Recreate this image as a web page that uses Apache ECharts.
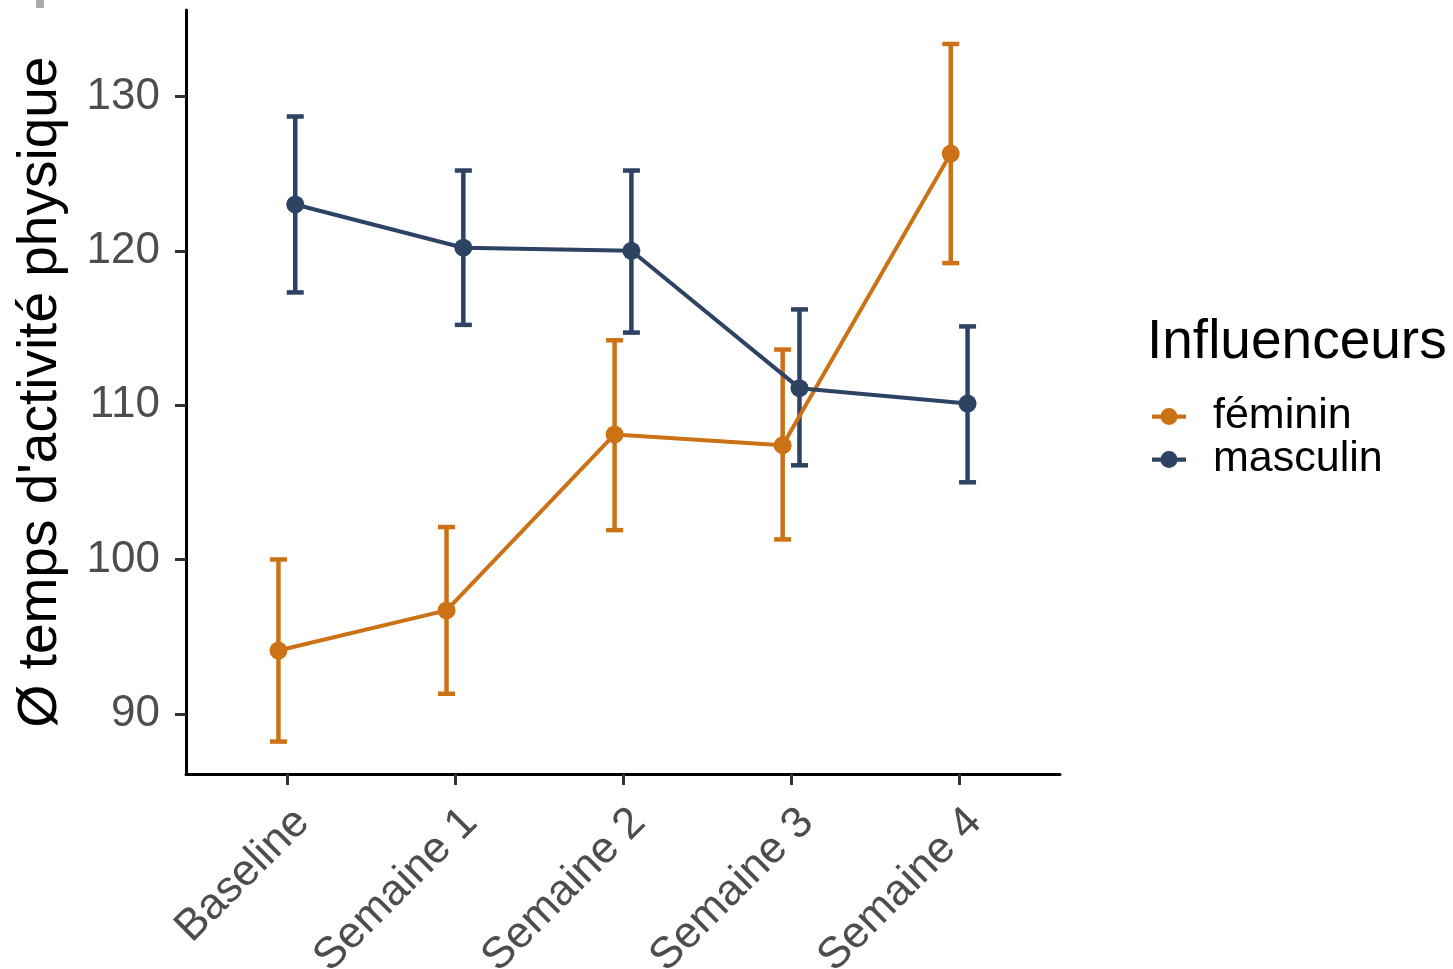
<!DOCTYPE html>
<html>
<head>
<meta charset="utf-8">
<script src="https://cdn.jsdelivr.net/npm/echarts@6/dist/echarts.min.js"></script>
<style>html,body{margin:0;padding:0;background:#fff}#c{width:1453px;height:969px}</style>
</head>
<body>
<div id="c"></div>
<script>
const categories = ['Baseline', 'Semaine 1', 'Semaine 2', 'Semaine 3', 'Semaine 4'];
const yTicks = [90, 100, 110, 120, 130];
const femMean = [94.1, 96.7, 108.1, 107.4, 126.3];
const femLow  = [88.2, 91.3, 101.9, 101.3, 119.2];
const femHigh = [100.0, 102.1, 114.2, 113.6, 133.4];
const mascMean = [123.0, 120.2, 120.0, 111.1, 110.1];
const mascLow  = [117.3, 115.2, 114.7, 106.1, 105.0];
const mascHigh = [128.7, 125.2, 125.2, 116.2, 115.1];

const FEM = '#CC7216', MASC = '#2E4263';
const DODGE = 0.05;
const font = '"Liberation Sans", Arial, Helvetica, sans-serif';
const legendIcon = 'path://M0,8 L32,8 L32,12 L0,12 Z M24,10 A8,8 0 1,1 8,10 A8,8 0 1,1 24,10 Z';

function pts(mean, off) { return mean.map((v, i) => [i + off, v]); }
function bars(lo, hi, off) { return lo.map((v, i) => [i + off, v, hi[i]]); }

function errRender(color) {
  return function (params, api) {
    const x = api.value(0);
    const p1 = api.coord([x, api.value(1)]);
    const p2 = api.coord([x, api.value(2)]);
    const hw = 8.5;
    const st = { stroke: color, lineWidth: 4.5 };
    return { type: 'group', children: [
      { type: 'line', shape: { x1: p1[0], y1: p1[1], x2: p2[0], y2: p2[1] }, style: st },
      { type: 'line', shape: { x1: p1[0] - hw, y1: p1[1], x2: p1[0] + hw, y2: p1[1] }, style: st },
      { type: 'line', shape: { x1: p2[0] - hw, y1: p2[1], x2: p2[0] + hw, y2: p2[1] }, style: st }
    ]};
  };
}

const chart = echarts.init(document.getElementById('c'), null, { renderer: 'canvas' });
chart.setOption({
  backgroundColor: '#ffffff',
  animation: false,
  textStyle: { fontFamily: font },
  graphic: [{ type: 'rect', shape: { x: 36, y: 0, width: 8, height: 8 }, style: { fill: '#AAAAAA' } }],
  title: {
    text: 'Influenceurs', left: 1142, top: 310,
    textStyle: { fontFamily: font, fontSize: 55, fontWeight: 'normal', color: '#000' }
  },
  legend: {
    orient: 'vertical', left: 1147, top: 390,
    itemWidth: 34, itemHeight: 17, itemGap: 0,
    textStyle: { fontFamily: font, fontSize: 43, lineHeight: 40, color: '#000', padding: [0, 0, 0, 22] },
    data: [
      { name: 'féminin', icon: legendIcon, itemStyle: { color: FEM } },
      { name: 'masculin', icon: legendIcon, itemStyle: { color: MASC } }
    ]
  },
  grid: { left: 186, top: 10, width: 874, height: 764, containLabel: false, outerBoundsMode: 'none' },
  xAxis: {
    type: 'value', min: -0.6, max: 4.6,
    splitLine: { show: false },
    axisLine: { show: true, onZero: false, lineStyle: { color: '#000', width: 3 } },
    axisTick: { show: true, customValues: [0, 1, 2, 3, 4], length: 11, lineStyle: { color: '#333', width: 3 } },
    axisLabel: {
      customValues: [0, 1, 2, 3, 4], rotate: 45, margin: 26, verticalAlign: 'top', align: 'right',
      fontFamily: font, fontSize: 44, color: '#4D4D4D',
      formatter: v => categories[Math.round(v)]
    }
  },
  yAxis: {
    type: 'value', min: 86.1, max: 135.6,
    name: 'Ø temps d\'activité physique', nameLocation: 'middle', nameGap: 118, nameRotate: 90,
    nameTextStyle: { fontFamily: font, fontSize: 55, color: '#000' },
    splitLine: { show: false },
    axisLine: { show: true, onZero: false, lineStyle: { color: '#000', width: 3 } },
    axisTick: { show: true, customValues: yTicks, length: 11, lineStyle: { color: '#333', width: 3 } },
    axisLabel: {
      customValues: yTicks, margin: 26,
      fontFamily: font, fontSize: 44, color: '#4D4D4D'
    }
  },
  series: [
    { name: 'féminin-err', type: 'custom', renderItem: errRender(FEM), data: bars(femLow, femHigh, -DODGE), z: 1, silent: true },
    { name: 'masculin-err', type: 'custom', renderItem: errRender(MASC), data: bars(mascLow, mascHigh, DODGE), z: 1, silent: true },
    { name: 'féminin', type: 'line', data: pts(femMean, -DODGE), color: FEM, z: 3,
      lineStyle: { width: 4, color: FEM }, symbol: 'circle', symbolSize: 18, itemStyle: { color: FEM } },
    { name: 'masculin', type: 'line', data: pts(mascMean, DODGE), color: MASC, z: 3,
      lineStyle: { width: 4, color: MASC }, symbol: 'circle', symbolSize: 18, itemStyle: { color: MASC } }
  ]
});
</script>
</body>
</html>
